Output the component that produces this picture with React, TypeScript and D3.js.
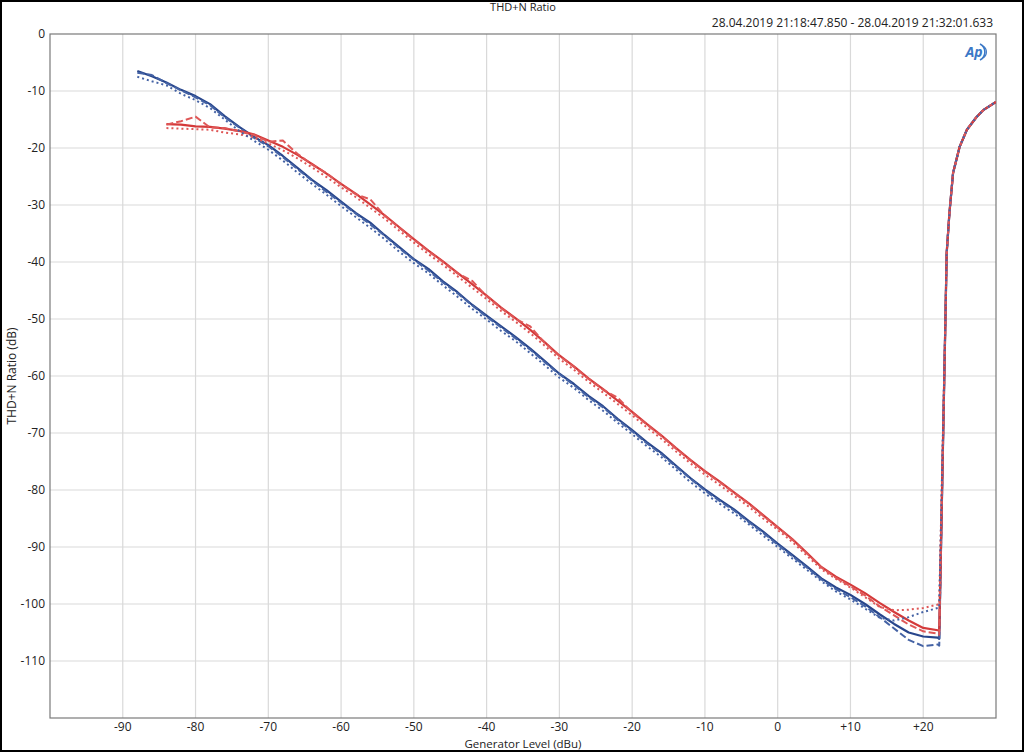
import React from 'react';
import * as d3 from 'd3';

const levels = [-88, -86, -84, -82, -80, -78, -76, -74, -72, -70, -68, -66, -64, -62, -60, -58, -56, -54, -52, -50, -48, -46, -44, -42, -40, -38, -36, -34, -32, -30, -28, -26, -24, -22, -20, -18, -16, -14, -12, -10, -8, -6, -4, -2, 0, 2, 4, 6, 8, 10, 12, 14, 16, 18, 20, 22, 22.2];

const blueSolid = [-6.5, -7.4, -8.5, -9.8, -10.9, -12.3, -14.4, -16.3, -18.0, -19.5, -21.4, -23.5, -25.6, -27.4, -29.4, -31.4, -33.1, -35.3, -37.4, -39.5, -41.2, -43.4, -45.3, -47.5, -49.4, -51.3, -53.2, -55.2, -57.4, -59.6, -61.4, -63.5, -65.3, -67.5, -69.5, -71.6, -73.5, -75.7, -77.9, -79.9, -81.7, -83.4, -85.4, -87.3, -89.4, -91.4, -93.4, -95.5, -97.1, -98.4, -100.0, -101.8, -103.5, -105.0, -105.7, -105.9, -106.1];

const blueDashed = [-6.8, -7.2, -8.6, -9.9, -11.1, -12.5, -14.6, -16.4, -18.2, -19.7, -21.6, -23.7, -25.7, -27.7, -29.6, -31.5, -33.4, -35.4, -37.6, -39.6, -41.5, -43.6, -45.5, -47.6, -49.6, -51.5, -53.4, -55.4, -57.6, -59.7, -61.6, -63.7, -65.5, -67.7, -69.7, -71.8, -73.7, -75.9, -78.0, -80.1, -81.9, -83.6, -85.6, -87.5, -89.6, -91.6, -93.6, -95.7, -97.4, -98.8, -100.4, -102.3, -104.3, -106.3, -107.4, -107.1, -107.3];

const blueDotted = [-7.5, -8.3, -9.0, -10.5, -11.6, -13.0, -15.0, -17.0, -18.7, -20.3, -22.2, -24.3, -26.3, -28.2, -30.2, -32.1, -34.0, -36.0, -38.2, -40.2, -42.0, -44.1, -46.1, -48.2, -50.1, -52.1, -53.9, -56.0, -58.1, -60.3, -62.1, -64.2, -66.1, -68.2, -70.2, -72.3, -74.2, -76.4, -78.6, -80.6, -82.4, -84.1, -86.0, -88.0, -90.0, -92.0, -94.0, -96.0, -97.8, -99.2, -100.8, -102.4, -102.9, -102.3, -101.4, -100.7, -100.6];

const redSolid = [null, null, -15.8, -15.9, -16.2, -16.3, -16.6, -17.0, -17.6, -18.7, -19.8, -21.2, -22.8, -24.5, -26.3, -28.0, -29.9, -31.8, -33.9, -36.0, -38.0, -39.9, -41.9, -43.9, -45.9, -48.0, -49.9, -51.9, -54.1, -56.4, -58.3, -60.4, -62.3, -64.3, -66.3, -68.4, -70.4, -72.6, -74.7, -76.7, -78.5, -80.4, -82.3, -84.4, -86.5, -88.6, -91.0, -93.5, -95.2, -96.6, -98.1, -99.8, -101.4, -102.9, -104.2, -104.6, -104.7];

const redDashed = [null, null, -15.9, -15.3, -14.5, -16.4, -16.5, -17.1, -17.7, -18.9, -18.7, -21.0, -22.9, -24.4, -26.4, -28.1, -29.0, -31.9, -34.0, -36.1, -38.1, -40.0, -42.0, -43.3, -46.0, -48.1, -50.0, -51.3, -54.2, -56.5, -58.4, -60.5, -62.4, -63.8, -66.4, -68.5, -70.5, -72.7, -74.8, -76.8, -78.6, -80.5, -82.4, -84.5, -86.6, -88.7, -91.1, -93.6, -95.4, -96.9, -98.5, -100.4, -102.0, -103.6, -104.8, -105.2, -105.4];

const redDotted = [null, null, -16.5, -16.6, -16.7, -16.8, -17.3, -17.6, -18.1, -19.2, -20.4, -21.8, -23.4, -25.1, -26.9, -28.6, -30.5, -32.4, -34.5, -36.6, -38.6, -40.5, -42.5, -44.5, -46.5, -48.6, -50.5, -52.5, -54.7, -57.0, -58.9, -61.0, -62.9, -64.9, -66.9, -69.0, -71.0, -73.2, -75.3, -77.3, -79.1, -81.0, -82.9, -85.0, -87.0, -89.1, -91.5, -93.9, -95.6, -97.1, -98.8, -100.5, -101.1, -101.0, -100.7, -100.1, -100.0];

// shared clipping rise at the top of the generator range
const riseLevels = [23.05, 23.22, 23.6, 24.1, 25.0, 26.0, 27.3, 28.3, 30.0];
const riseValues = [-50.0, -38.5, -31.4, -24.4, -19.8, -16.8, -14.6, -13.3, -11.9];

const xTickValues = [-90, -80, -70, -60, -50, -40, -30, -20, -10, 0, 10, 20];
const yTickValues = [0, -10, -20, -30, -40, -50, -60, -70, -80, -90, -100, -110];

const titleText = 'THD+N Ratio';
const dateText = '28.04.2019 21:18:47.850 - 28.04.2019 21:32:01.633';
const xTitle = 'Generator Level (dBu)';
const yTitle = 'THD+N Ratio (dB)';

const BLUE = '#28468c';
const BLUE_LIGHT = '#4563a5';
const RED = '#d43a3a';
const RED_LIGHT = '#df5757';

const FONT = '"Open Sans", "Noto Sans", sans-serif';

export default function App() {
  const W = 1024;
  const H = 752;
  const left = 50, right = 996, top = 34, bottom = 718;
  const x = d3.scaleLinear().domain([-100, 30]).range([left, right]);
  const y = d3.scaleLinear().domain([0, -120]).range([top, bottom]);

  const line = d3
    .line<[number, number | null]>()
    .defined((d) => d[1] !== null)
    .x((d) => x(d[0]))
    .y((d) => y(d[1] as number));

  const build = (vals: (number | null)[]) => {
    const pts: [number, number | null][] = levels.map((l, i) => [l, vals[i]]);
    const valid = pts.filter((p) => p[1] !== null);
    const rise: [number, number | null][] = riseLevels.map((l, i) => [l, riseValues[i]]);
    return line(valid.concat(rise)) || '';
  };

  const series = [
    { vals: blueSolid, color: BLUE, dash: undefined, w: 2.2 },
    { vals: blueDashed, color: BLUE_LIGHT, dash: '7,3', w: 2 },
    { vals: redSolid, color: RED, dash: undefined, w: 2.2 },
    { vals: redDashed, color: RED_LIGHT, dash: '7,3', w: 2 },
    { vals: redDotted, color: RED_LIGHT, dash: '2,3', w: 2 },
    { vals: blueDotted, color: BLUE_LIGHT, dash: '2,3', w: 2 },
  ];

  const fmtX = (v: number) => (v > 0 ? '+' + v : String(v));

  return (
    <svg
      width={W}
      height={H}
      style={{ position: 'absolute', left: 0, top: 0, background: '#fff' }}
      fontFamily={FONT}
    >
      <rect x={0} y={0} width={W} height={H} fill="#fff" />
      <rect x={1} y={1} width={W - 2} height={H - 2} fill="none" stroke="#000" strokeWidth={2} />

      {/* grid */}
      {xTickValues.map((v) => (
        <line key={'gx' + v} x1={x(v)} x2={x(v)} y1={top} y2={bottom} stroke="#d9d9d9" strokeWidth={1.2} />
      ))}
      {yTickValues.filter((v) => v !== 0).map((v) => (
        <line key={'gy' + v} x1={left} x2={right} y1={y(v)} y2={y(v)} stroke="#d9d9d9" strokeWidth={1.2} />
      ))}

      {/* plot frame */}
      <rect x={left} y={top} width={right - left} height={bottom - top} fill="none" stroke="#7a7a7a" strokeWidth={1.2} />

      <defs>
        <clipPath id="plotclip">
          <rect x={left} y={top} width={right - left} height={bottom - top} />
        </clipPath>
      </defs>

      <g clipPath="url(#plotclip)">
        {series.map((s, i) => (
          <path
            key={i}
            d={build(s.vals)}
            fill="none"
            stroke={s.color}
            strokeWidth={s.w}
            strokeDasharray={s.dash}
            strokeLinejoin="round"
          />
        ))}
      </g>

      {/* tick labels */}
      {xTickValues.map((v) => (
        <text key={'tx' + v} x={x(v)} y={731} textAnchor="middle" fontSize={12} fill="#222">
          {fmtX(v)}
        </text>
      ))}
      {yTickValues.map((v) => (
        <text key={'ty' + v} x={45} y={y(v) + 4} textAnchor="end" fontSize={12} fill="#222">
          {String(v)}
        </text>
      ))}

      {/* titles */}
      <text x={(left + right) / 2} y={11} textAnchor="middle" fontSize={11} fill="#222">
        {titleText}
      </text>
      <text x={993} y={27} textAnchor="end" fontSize={12} fill="#222">
        {dateText}
      </text>
      <text x={(left + right) / 2} y={748} textAnchor="middle" fontSize={11.5} fill="#222">
        {xTitle}
      </text>
      <text
        transform={`translate(16, ${(top + bottom) / 2}) rotate(-90)`}
        textAnchor="middle"
        fontSize={12}
        fill="#222"
      >
        {yTitle}
      </text>

      {/* AP logo */}
      <g transform="translate(975, 52)">
        <path d="M 5 -8 A 9 9 0 0 1 5 8" fill="none" stroke="#3b78c6" strokeWidth={1.6} />
        <path d="M 8 -6 A 7 7 0 0 1 8 6" fill="none" stroke="#3b78c6" strokeWidth={1.2} />
        <text x={-1} y={5} textAnchor="middle" fontSize={14} fontWeight="bold" fontStyle="italic" fill="#3b78c6">
          Ap
        </text>
      </g>
    </svg>
  );
}
